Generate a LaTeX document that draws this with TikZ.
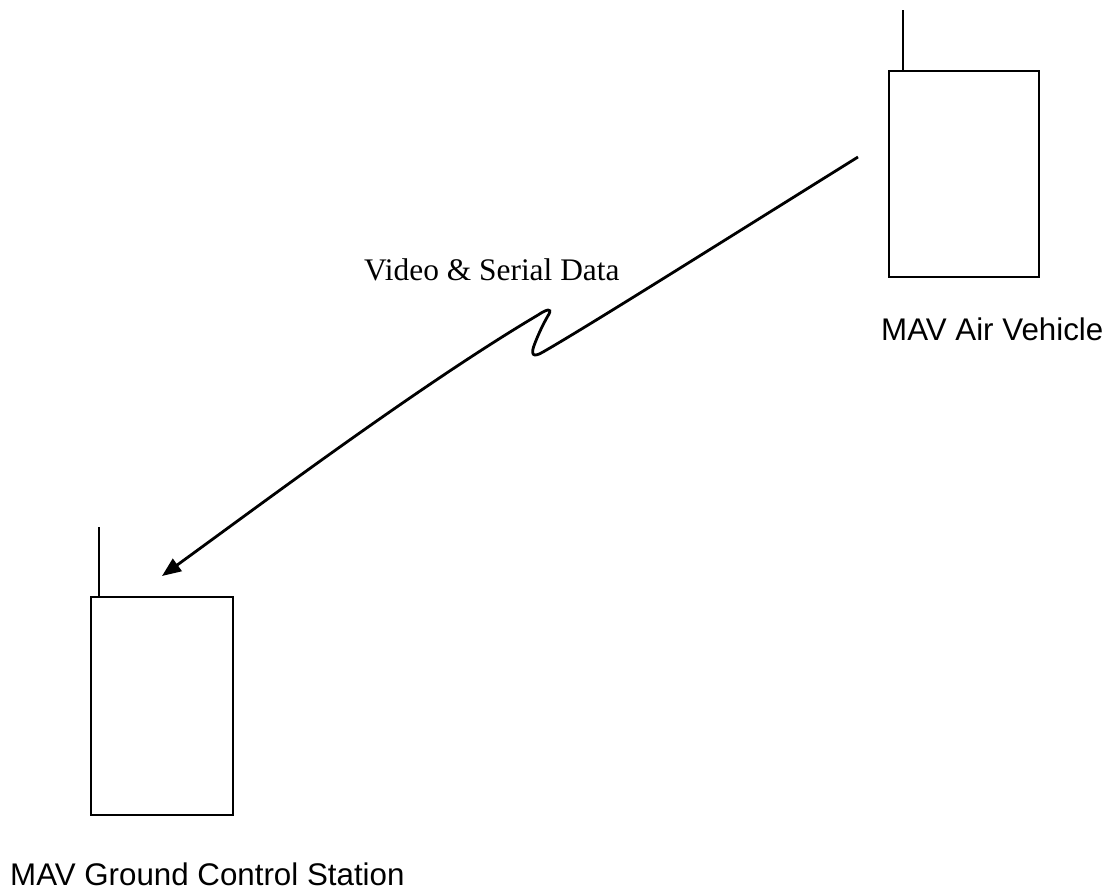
\documentclass[tikz,border=0pt]{standalone}
\usepackage{fontspec}
\setmainfont{Liberation Serif}
\setsansfont{Liberation Sans}
\usetikzlibrary{arrows.meta}
\begin{document}
\begin{tikzpicture}[x=1pt,y=-1pt,
  box/.style={draw,line width=2.9pt,inner sep=0pt,outer sep=0pt},
  antenna/.style={line width=2.2pt},
  link/.style={line width=2.8pt,-{Triangle[length=19pt,width=15pt]}},
  sanslbl/.style={font=\sffamily\fontsize{31.3}{33}\selectfont,inner sep=0pt},
  seriflbl/.style={font=\fontsize{31.4}{33}\selectfont,inner sep=0pt}]
\useasboundingbox (0,0) rectangle (1104,894);
\node[box,minimum width=150pt,minimum height=206pt] (air) at (964,174) {};
\node[box,minimum width=142pt,minimum height=218pt] (gcs) at (162,706) {};
\draw[antenna] ([xshift=14pt]air.north west) -- ++(0,-61);
\draw[antenna] ([xshift=8pt]gcs.north west) -- ++(0,-70);
\coordinate (avout) at (858,157);
\coordinate (gcsin) at (162,576);
\draw[link] (avout) .. controls (720,243) and (590,325) .. (543,352)
  .. controls (533,358) and (530,355) .. (535,343)
  .. controls (540,330) and (546,319) .. (549,314)
  .. controls (552,308) and (547,309) .. (538,315)
  .. controls (420,385) and (260,505) .. (gcsin);
\node[seriflbl,anchor=base west] (vid) at (364,280) {Video \& Serial Data};
\node[sanslbl,anchor=base west] (airlbl) at (881,340) {MAV Air Vehicle};
\node[sanslbl,anchor=base west] (gcslbl) at (10,885) {MAV Ground Control Station};
\end{tikzpicture}
\end{document}
